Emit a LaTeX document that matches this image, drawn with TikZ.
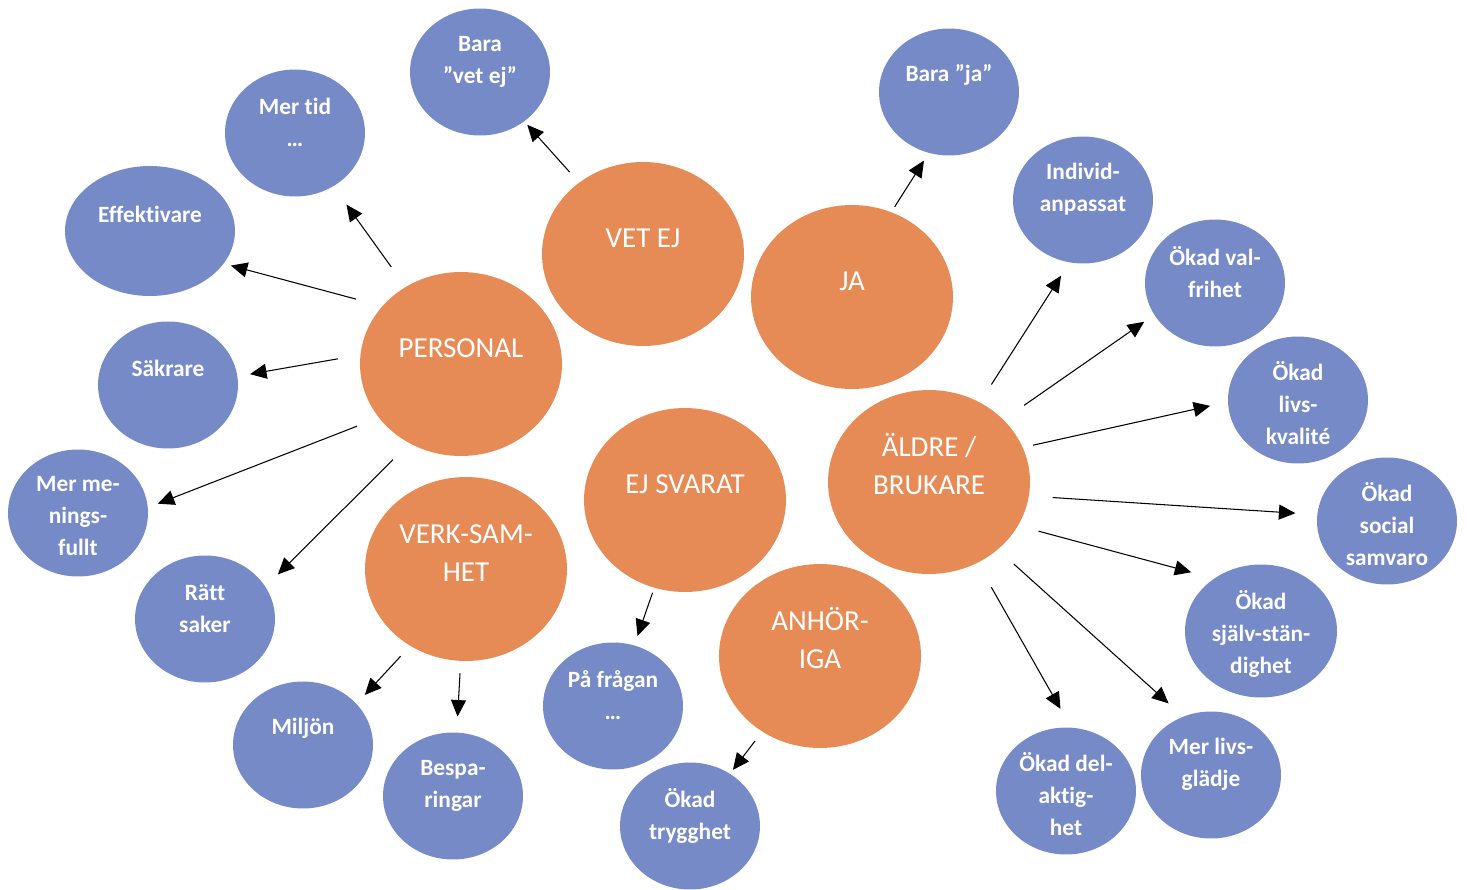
\documentclass[tikz,border=0pt]{standalone}
\usepackage{fontspec}
\setmainfont{Carlito}[Ligatures=NoCommon]
\usetikzlibrary{shapes.geometric,arrows.meta,calc}
\definecolor{blobOrange}{HTML}{E68B56}
\definecolor{blobBlue}{HTML}{758AC6}

\begin{document}
\begin{tikzpicture}[
            x=0.02cm, y=-0.02cm,
            main/.style={ellipse, fill=blobOrange, minimum width=4.04cm, minimum height=3.68cm, inner sep=0pt},
            sub/.style={ellipse, fill=blobBlue, minimum width=2.8cm, minimum height=2.54cm, inner sep=0pt},
            maintxt/.style={text=white, font=\fontsize{16.5}{21.6}\selectfont, align=center, yshift=0.32cm},
            subtxt/.style={text=white, font=\bfseries\fontsize{13.3}{18.2}\selectfont, align=center},
            line1/.style={subtxt, yshift=0.34cm},
            line2/.style={subtxt, yshift=0.21cm},
            line3/.style={subtxt, yshift=-0.06cm},
            arr/.style={-{Triangle[length=0.33cm,width=0.3cm]}, line width=0.6pt}
        ]
        \useasboundingbox (0,0) rectangle (1467,889);

        % main groups
        \node[main, label={[maintxt]center:VET EJ}] (vetej) at (643,254) {};
        \node[main, label={[maintxt]center:JA}] (ja) at (852,297) {};
        \node[main, label={[maintxt]center:PERSONAL}] (personal) at (461,364) {};
        \node[main, label={[maintxt]center:{EJ SVARAT}}] (ejsvarat) at (685,500) {};
        \node[main, label={[maintxt,yshift=0.04cm]center:{ÄLDRE /\\BRUKARE}}] (aldre) at (929,482) {};
        \node[main, label={[maintxt]center:{VERK-SAM-\\HET}}] (verksamhet) at (466,569) {};
        \node[main, label={[maintxt,yshift=0.05cm]center:{ANHÖR-\\IGA}}] (anhoriga) at (820,656) {};

        % answers
        \node[sub, label={[line2]center:{Bara\\”vet ej”}}] (baravetej) at (480,72) {};
        \node[sub, label={[line2]center:{Mer tid\\…}}] (mertid) at (295,133) {};
        \node[sub, minimum width=3.4cm, minimum height=2.6cm, label={[line1]center:Effektivare}] (effektivare) at (150,231) {};
        \node[sub, label={[line1]center:Säkrare}] (sakrare) at (168,385) {};
        \node[sub, label={[line3]center:{Mer me-\\nings-\\fullt}}] (meningsfullt) at (78,513) {};
        \node[sub, label={[line2]center:{Rätt\\saker}}] (rattsaker) at (205,619) {};
        \node[sub, label={[line1]center:Miljön}] (miljon) at (303,745) {};
        \node[sub, label={[line2]center:{Bespa-\\ringar}}] (besparingar) at (453,796) {};
        \node[sub, label={[line2]center:{På frågan\\…}}] (pafragan) at (613,706) {};
        \node[sub, label={[line2]center:{Ökad\\trygghet}}] (trygghet) at (690,826) {};
        \node[sub, label={[line1]center:{Bara ”ja”}}] (baraja) at (949,92) {};
        \node[sub, label={[line2]center:{Individ-\\anpassat}}] (individ) at (1083,200) {};
        \node[sub, label={[line2]center:{Ökad val-\\frihet}}] (valfrihet) at (1215,283) {};
        \node[sub, label={[line3]center:{Ökad\\livs-\\kvalité}}] (livskvalite) at (1298,400) {};
        \node[sub, label={[line3]center:{Ökad\\social\\samvaro}}] (samvaro) at (1387,521) {};
        \node[sub, minimum width=3.04cm, minimum height=2.66cm, label={[line3]center:{Ökad\\själv-stän-\\dighet}}] (sjalvstandighet) at (1261,631) {};
        \node[sub, label={[line2]center:{Mer livs-\\glädje}}] (livsgladje) at (1211,775) {};
        \node[sub, label={[line3]center:{Ökad del-\\aktig-\\het}}] (delaktighet) at (1066,791) {};

        % arrows
        \draw[arr] ($(vetej)!0.45!(baravetej)$) -- ($(vetej)!0.71!(baravetej)$);
        \draw[arr] ($(ja)!0.44!(baraja)$) -- ($(ja)!0.68!(baraja)+(6,3)$);
        \draw[arr] ($(personal)!0.42!(mertid)$) -- ($(personal)!0.69!(mertid)$);
        \draw[arr] ($(personal)!0.36!(effektivare)+(7,-17)$) -- ($(personal)!0.74!(effektivare)$);
        \draw[arr] ($(personal)!0.42!(sakrare)+(0,-14)$) -- ($(personal)!0.72!(sakrare)+(0,-5)$);
        \draw[arr] ($(personal)!0.29!(meningsfullt)+(7,19)$) -- ($(personal)!0.81!(meningsfullt)+(7,19)$);
        \draw[arr] ($(personal)!0.32!(rattsaker)+(14,14)$) -- ($(personal)!0.77!(rattsaker)+(14,14)$);
        \draw[arr] ($(verksamhet)!0.45!(miljon)+(8,8)$) -- ($(verksamhet)!0.67!(miljon)+(8,8)$);
        \draw[arr] ($(verksamhet)!0.46!(besparingar)$) -- ($(verksamhet)!0.65!(besparingar)$);
        \draw[arr] ($(ejsvarat)!0.45!(pafragan)$) -- ($(ejsvarat)!0.66!(pafragan)$);
        \draw[arr] ($(anhoriga)!0.5!(trygghet)$) -- ($(anhoriga)!0.67!(trygghet)$);
        \draw[arr] ($(aldre)!0.36!(individ)+(7,4)$) -- ($(aldre)!0.76!(individ)+(15,8)$);
        \draw[arr] ($(aldre)!0.35!(valfrihet)+(-5,-7)$) -- ($(aldre)!0.77!(valfrihet)+(-5,-7)$);
        \draw[arr] ($(aldre)!0.29!(livskvalite)+(-3,-13)$) -- ($(aldre)!0.77!(livskvalite)+(-3,-13)$);
        \draw[arr] ($(aldre)!0.27!(samvaro)+(0,5)$) -- ($(aldre)!0.8!(samvaro)$);
        \draw[arr] ($(aldre)!0.33!(sjalvstandighet)$) -- ($(aldre)!0.76!(sjalvstandighet)+(10,-23)$);
        \draw[arr] ($(aldre)!0.29!(livsgladje)+(3,-3)$) -- ($(aldre)!0.8!(livsgladje)+(14,-13)$);
        \draw[arr] ($(aldre)!0.36!(delaktighet)+(13,-6)$) -- ($(aldre)!0.77!(delaktighet)+(26,-11)$);
    \end{tikzpicture}
\end{document}
